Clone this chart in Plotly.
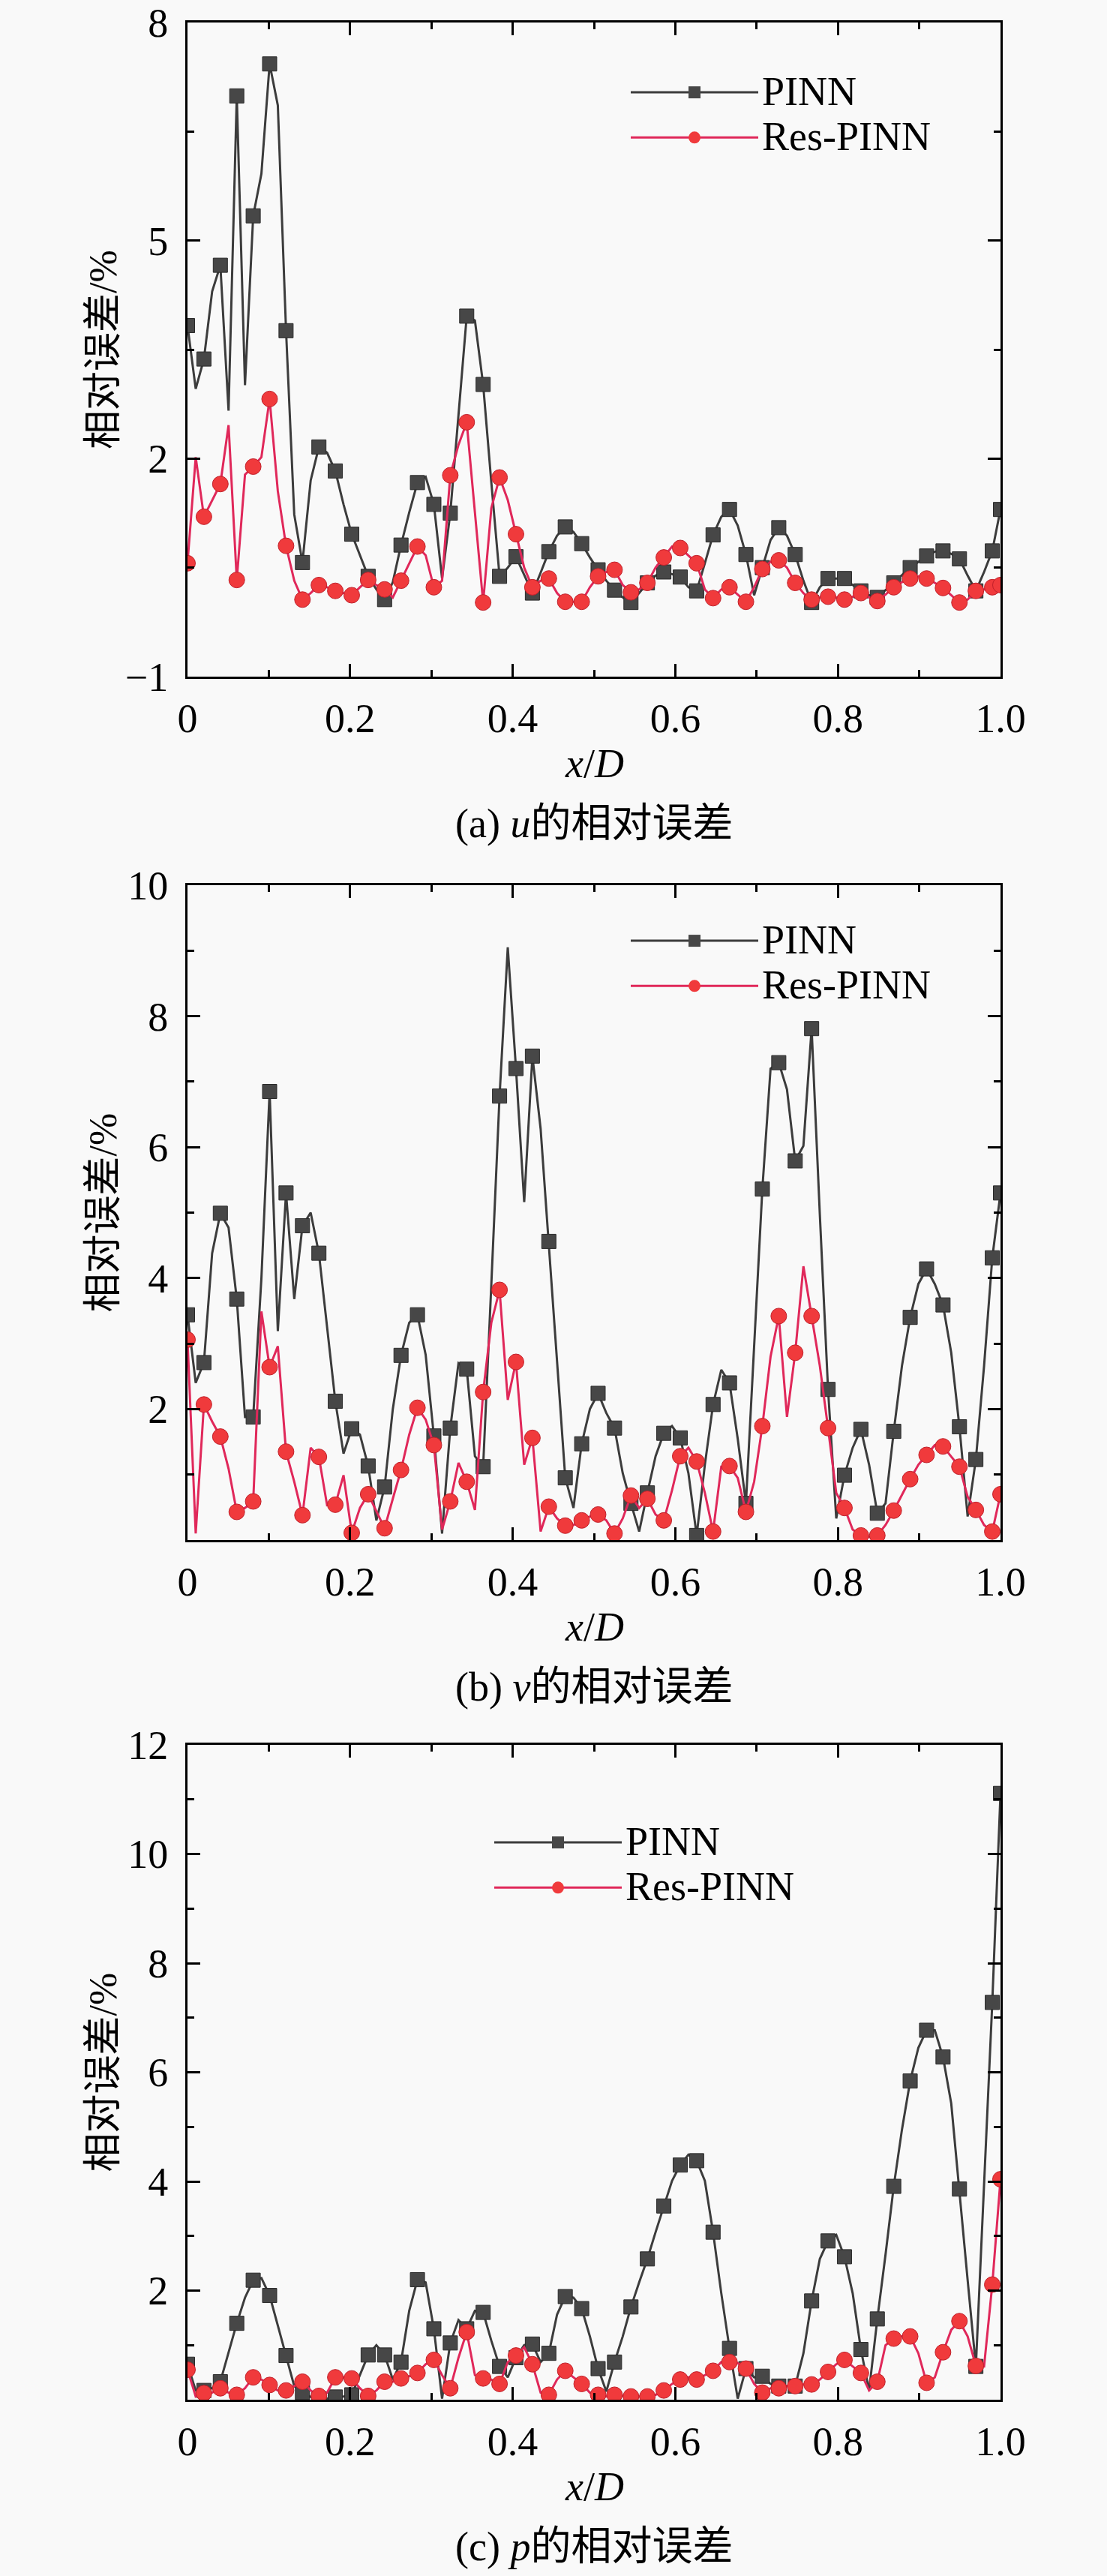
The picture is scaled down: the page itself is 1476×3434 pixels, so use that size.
import plotly.graph_objects as go

# x/D grid (100 samples), markers drawn on every second sample plus the last one
x_over_d = [i / 99 for i in range(100)]
marker_idx = list(range(0, 100, 2)) + [99]

pinn_u = [3.83, 2.96, 3.37, 4.30, 4.66, 2.66, 6.99, 3.01, 5.34, 5.92,
          7.43, 6.86, 3.76, 1.23, 0.57, 1.70, 2.16, 2.08, 1.83, 1.37,
          0.96, 0.67, 0.38, 0.20, 0.06, 0.30, 0.81, 1.26, 1.67, 1.75,
          1.37, 0.35, 1.25, 2.60, 3.96, 3.90, 3.02, 1.67, 0.38, 0.50,
          0.65, 0.40, 0.15, 0.43, 0.72, 0.94, 1.06, 0.99, 0.83, 0.64,
          0.47, 0.32, 0.19, 0.09, 0.02, 0.15, 0.29, 0.39, 0.44, 0.41,
          0.37, 0.23, 0.18, 0.56, 0.95, 1.20, 1.30, 1.08, 0.68, 0.12,
          0.50, 0.88, 1.05, 0.94, 0.68, 0.32, 0.02, 0.23, 0.35, 0.35,
          0.35, 0.26, 0.18, 0.12, 0.09, 0.19, 0.29, 0.39, 0.50, 0.58,
          0.66, 0.72, 0.73, 0.69, 0.62, 0.39, 0.18, 0.44, 0.73, 1.30]
res_u = [0.56, 2.02, 1.20, 1.43, 1.65, 2.46, 0.33, 1.78, 1.89, 2.02,
         2.82, 1.55, 0.80, 0.32, 0.06, 0.15, 0.26, 0.23, 0.18, 0.15,
         0.12, 0.23, 0.33, 0.26, 0.20, 0.09, 0.32, 0.56, 0.79, 0.67,
         0.23, 0.32, 1.77, 2.19, 2.50, 1.26, 0.02, 1.32, 1.74, 1.43,
         0.96, 0.50, 0.23, 0.32, 0.35, 0.15, 0.03, 0.03, 0.03, 0.23,
         0.38, 0.44, 0.47, 0.26, 0.16, 0.20, 0.29, 0.50, 0.64, 0.79,
         0.77, 0.67, 0.56, 0.20, 0.08, 0.20, 0.23, 0.13, 0.03, 0.23,
         0.48, 0.58, 0.60, 0.50, 0.29, 0.15, 0.06, 0.09, 0.10, 0.09,
         0.06, 0.10, 0.15, 0.09, 0.04, 0.13, 0.23, 0.30, 0.35, 0.38,
         0.35, 0.29, 0.22, 0.12, 0.02, 0.06, 0.18, 0.20, 0.23, 0.26]

pinn_v = [3.44, 2.40, 2.71, 4.38, 4.99, 4.77, 3.68, 1.88, 1.88, 4.00,
          6.85, 3.19, 5.30, 3.68, 4.80, 5.00, 4.38, 3.26, 2.12, 1.32,
          1.70, 1.61, 1.13, 0.30, 0.81, 2.00, 2.82, 3.32, 3.44, 2.83,
          1.59, 0.10, 1.71, 2.70, 2.61, 1.28, 1.12, 3.91, 6.78, 9.05,
          7.20, 5.16, 7.39, 6.28, 4.56, 2.73, 0.95, 0.49, 1.47, 2.00,
          2.24, 1.94, 1.71, 1.02, 0.56, 0.13, 0.72, 1.28, 1.63, 1.74,
          1.56, 1.02, 0.07, 1.15, 2.07, 2.60, 2.40, 1.55, 0.56, 3.00,
          5.36, 7.20, 7.29, 6.88, 5.79, 6.02, 7.81, 4.97, 2.30, 0.33,
          0.99, 1.41, 1.69, 1.15, 0.41, 0.56, 1.66, 2.66, 3.40, 3.91,
          4.14, 3.91, 3.59, 2.86, 1.73, 0.36, 1.23, 2.66, 4.31, 5.30]
res_v = [3.06, 0.10, 2.07, 1.81, 1.58, 1.09, 0.43, 0.49, 0.59, 3.49,
         2.64, 2.96, 1.35, 0.89, 0.38, 1.41, 1.27, 0.53, 0.54, 0.99,
         0.11, 0.49, 0.70, 0.43, 0.18, 0.63, 1.07, 1.61, 2.02, 1.84,
         1.45, 0.16, 0.59, 1.18, 0.89, 0.46, 2.26, 3.32, 3.82, 2.14,
         2.72, 1.15, 1.56, 0.13, 0.51, 0.33, 0.22, 0.23, 0.30, 0.36,
         0.39, 0.30, 0.10, 0.33, 0.68, 0.49, 0.63, 0.39, 0.30, 0.76,
         1.28, 1.41, 1.20, 0.72, 0.13, 1.12, 1.13, 0.95, 0.43, 0.89,
         1.74, 2.80, 3.42, 1.88, 2.86, 4.18, 3.42, 2.66, 1.71, 0.72,
         0.49, 0.16, 0.07, 0.05, 0.07, 0.23, 0.45, 0.69, 0.93, 1.15,
         1.30, 1.45, 1.43, 1.28, 1.12, 0.66, 0.46, 0.23, 0.13, 0.70]

pinn_p = [0.65, 0.17, 0.17, 0.21, 0.33, 0.85, 1.40, 1.87, 2.19, 2.23,
          1.91, 1.36, 0.81, 0.25, 0.13, 0.05, 0.02, 0.02, 0.05, 0.06,
          0.09, 0.45, 0.82, 1.00, 0.82, 0.37, 0.69, 1.63, 2.20, 2.15,
          1.30, 0.02, 1.04, 1.46, 1.30, 1.63, 1.60, 1.08, 0.61, 0.41,
          0.77, 1.00, 1.02, 0.69, 0.85, 1.56, 1.89, 1.87, 1.67, 1.16,
          0.57, 0.15, 0.69, 1.16, 1.70, 2.15, 2.58, 3.07, 3.55, 4.01,
          4.30, 4.49, 4.38, 4.01, 3.07, 1.95, 0.94, 0.02, 0.57, 0.41,
          0.43, 0.29, 0.25, 0.25, 0.25, 0.85, 1.81, 2.58, 2.91, 3.02,
          2.62, 1.95, 0.92, 0.17, 1.48, 2.66, 3.91, 4.95, 5.84, 6.45,
          6.77, 6.77, 6.28, 5.43, 3.86, 2.19, 0.61, 3.85, 7.28, 11.11]
res_p = [0.55, 0.06, 0.12, 0.13, 0.21, 0.13, 0.09, 0.21, 0.41, 0.37,
         0.27, 0.17, 0.17, 0.25, 0.33, 0.17, 0.07, 0.13, 0.41, 0.41,
         0.39, 0.21, 0.07, 0.17, 0.33, 0.33, 0.39, 0.43, 0.49, 0.65,
         0.73, 0.45, 0.21, 0.77, 1.24, 0.45, 0.39, 0.37, 0.29, 0.69,
         0.81, 0.96, 0.65, 0.13, 0.09, 0.37, 0.53, 0.41, 0.29, 0.13,
         0.09, 0.06, 0.09, 0.07, 0.06, 0.06, 0.06, 0.09, 0.17, 0.29,
         0.37, 0.41, 0.37, 0.45, 0.53, 0.69, 0.69, 0.67, 0.57, 0.29,
         0.13, 0.21, 0.21, 0.25, 0.25, 0.28, 0.28, 0.37, 0.51, 0.65,
         0.73, 0.61, 0.49, 0.17, 0.33, 1.00, 1.12, 1.16, 1.16, 0.85,
         0.31, 0.41, 0.87, 1.28, 1.44, 1.16, 0.62, 0.61, 2.11, 4.04]

panels = [
    ("(a) <i>u</i>的相对误差", pinn_u, res_u, [-1, 8], [-1, 2, 5, 8], [0.5, 3.5, 6.5]),
    ("(b) <i>v</i>的相对误差", pinn_v, res_v, [0, 10], [2, 4, 6, 8, 10], [1, 3, 5, 7, 9]),
    ("(c) <i>p</i>的相对误差", pinn_p, res_p, [0, 12], [2, 4, 6, 8, 10, 12], [1, 3, 5, 7, 9, 11]),
]
series_names = ["PINN", "Res-PINN"]

W, H = 1476, 3434
FONT = "Liberation Serif, 'Noto Sans CJK SC', serif"
BLACK_LINE = "#3c3c3c"
RED_LINE = "#e0285a"

# pixel boxes of the three plot areas (top, bottom)
boxes = [(30, 902), (1180, 2053), (2326, 3199)]
# legend left edge and top edge in pixels
legend_pos = [(836, 88), (836, 1219), (654, 2421)]
x_left, x_right = 250, 1334


def legend_label(name):
    # big glyphs, tighter rows (row height follows the legend font size)
    return '<span style="font-size:54px">%s</span>' % name


fig = go.Figure()
layout = dict(template="none", width=W, height=H,
              margin=dict(l=0, r=0, t=0, b=0, autoexpand=False),
              paper_bgcolor="#f9f9f9", plot_bgcolor="#f9f9f9",
              font=dict(family=FONT, size=54, color="black"),
              annotations=[])

axis_common = dict(showline=True, linecolor="black", linewidth=3, mirror="ticks",
                   ticks="inside", ticklen=17, tickwidth=3, tickcolor="black",
                   showgrid=False, zeroline=False, automargin=False,
                   tickfont=dict(family=FONT, size=54, color="black"))

for k, (caption, pinn, res, yr, yt, ym) in enumerate(panels):
    n = "" if k == 0 else str(k + 1)
    top, bot = boxes[k]
    xa, ya = "x" + n, "y" + n
    leg = "legend" + n

    xs_m = [x_over_d[i] for i in marker_idx]
    fig.add_trace(go.Scatter(x=x_over_d, y=pinn, mode="lines", xaxis=xa, yaxis=ya,
                             line=dict(color=BLACK_LINE, width=3), showlegend=False))
    fig.add_trace(go.Scatter(x=xs_m, y=[pinn[i] for i in marker_idx], mode="markers",
                             xaxis=xa, yaxis=ya, showlegend=False,
                             marker=dict(symbol="square", size=19, color="#474747",
                                         line=dict(color="#2a2a2a", width=1))))
    fig.add_trace(go.Scatter(x=x_over_d, y=res, mode="lines", xaxis=xa, yaxis=ya,
                             line=dict(color=RED_LINE, width=3), showlegend=False))
    fig.add_trace(go.Scatter(x=xs_m, y=[res[i] for i in marker_idx], mode="markers",
                             xaxis=xa, yaxis=ya, showlegend=False,
                             marker=dict(symbol="circle", size=21, color="#f03a3c",
                                         line=dict(color="#c0202a", width=1))))
    # legend entries
    fig.add_trace(go.Scatter(x=[None], y=[None], mode="lines+markers",
                             name=legend_label(series_names[0]),
                             xaxis=xa, yaxis=ya, legend=leg,
                             line=dict(color=BLACK_LINE, width=3),
                             marker=dict(symbol="square", size=19, color="#474747")))
    fig.add_trace(go.Scatter(x=[None], y=[None], mode="lines+markers",
                             name=legend_label(series_names[1]),
                             xaxis=xa, yaxis=ya, legend=leg,
                             line=dict(color=RED_LINE, width=3),
                             marker=dict(symbol="circle", size=21, color="#f03a3c")))

    layout["xaxis" + n] = dict(axis_common, domain=[x_left / W, x_right / W], anchor=ya,
                               range=[0, 1], tickvals=[0, 0.2, 0.4, 0.6, 0.8, 1.0],
                               ticktext=["0", "0.2", "0.4", "0.6", "0.8", "1.0"],
                               ticklabelstandoff=6,
                               minor=dict(tickvals=[0.1, 0.3, 0.5, 0.7, 0.9], ticks="inside",
                                          ticklen=9, tickwidth=3, tickcolor="black"))
    layout["yaxis" + n] = dict(axis_common, domain=[1 - bot / H, 1 - top / H], anchor=xa,
                               range=yr, tickvals=yt, ticklabelstandoff=12,
                               minor=dict(tickvals=ym, ticks="inside",
                                          ticklen=9, tickwidth=3, tickcolor="black"))
    lx, ly = legend_pos[k]
    layout[leg] = dict(x=lx / W, y=1 - ly / H, xanchor="left", yanchor="top",
                       bgcolor="rgba(0,0,0,0)", font=dict(family=FONT, size=44, color="black"),
                       itemwidth=170)

    mid = (x_left + x_right) / 2 / W
    layout["annotations"] += [
        dict(text="相对误差/%", x=137 / W, y=1 - (top + bot) / 2 / H, xref="paper", yref="paper",
             xanchor="center", yanchor="middle",
             textangle=-90, showarrow=False, font=dict(family=FONT, size=52)),
        dict(text="<i>x</i>/<i>D</i>", x=mid, y=1 - (bot + 116) / H, xref="paper", yref="paper",
             xanchor="center", yanchor="middle", showarrow=False, font=dict(family=FONT, size=54)),
        dict(text=caption, x=mid, y=1 - (bot + 196) / H, xref="paper", yref="paper",
             xanchor="center", yanchor="middle", showarrow=False, font=dict(family=FONT, size=54)),
    ]

fig.update_layout(**layout)
fig.write_html("out.html", config={"displayModeBar": False},
               post_script="document.body.style.margin = '0px';")
